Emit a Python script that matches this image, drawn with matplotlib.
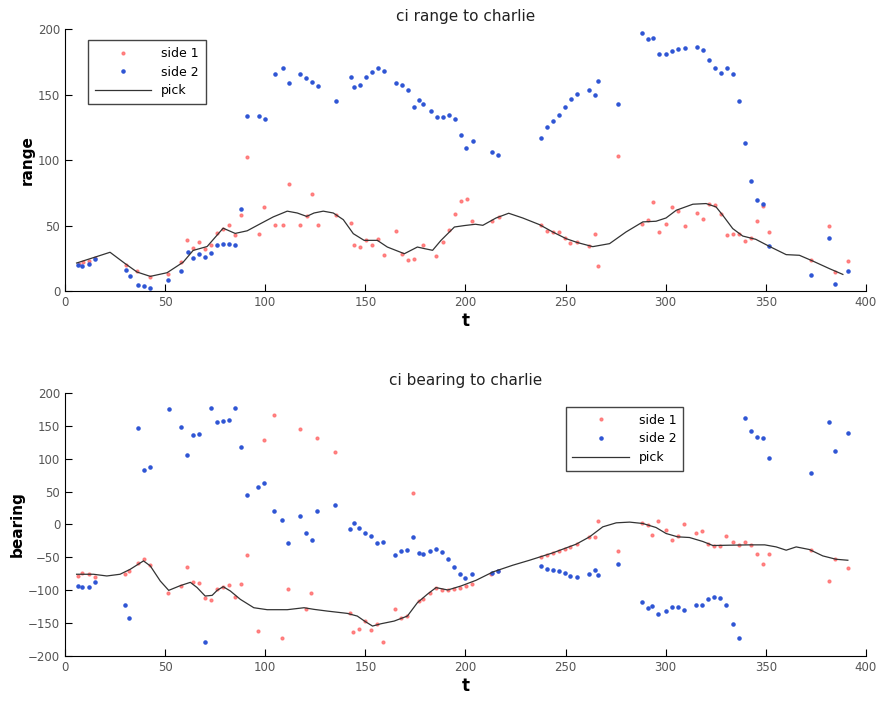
import numpy as np
import matplotlib
matplotlib.use("Agg")
import matplotlib.pyplot as plt

# ---- range plot data ----
t_r1 = [7, 9, 12, 15, 30.4, 35.9, 42.7, 51.4, 57.9, 60.9, 63.9, 66.9, 69.9, 72.9, 76.1, 79.1,
        82.1, 85.1, 88.1, 91.1, 96.7, 99.5, 104.7, 108.7, 111.7, 117.4, 120.7, 123.5, 126.5,
        135.6, 142.6, 144.4, 147.2, 150.4, 153.3, 156.3, 159.3, 165.1, 168.2, 171.3, 174.1,
        178.8, 185.5, 188.6, 191.7, 194.7, 197.7, 200.7, 203.5, 213.5, 216.6, 237.5, 240.5,
        243.6, 246.6, 249.8, 252.4, 255.8, 261.9, 264.9, 266.4, 276.4, 288.4, 291.4, 293.6,
        296.6, 300.4, 303.4, 306.4, 309.6, 315.6, 318.6, 321.6, 324.6, 327.7, 330.7, 333.7,
        336.7, 339.7, 342.7, 345.7, 348.7, 351.7, 372.8, 381.8, 384.8, 391.0]
r_r1 = [21, 22, 23, 25, 20.1, 15.3, 10.4, 13.3, 22.2, 38.7, 32.6, 37.2, 32.4, 35.4, 44.3, 47.1,
        50.2, 42.6, 57.8, 102.4, 43.3, 64.5, 50.2, 50.2, 82.1, 50.2, 57.1, 74.4, 50.7,
        58.4, 52.2, 34.9, 33.6, 38.7, 34.9, 40.0, 27.8, 45.9, 28.0, 24.0, 24.7,
        34.9, 26.5, 37.5, 46.4, 58.6, 68.6, 70.6, 53.5, 53.5, 56.3, 50.2, 45.9,
        44.9, 44.9, 40.5, 37.0, 37.7, 34.1, 43.3, 19.1, 103.2, 51.5, 54.0, 67.8,
        44.9, 51.0, 64.5, 61.4, 49.4, 59.6, 55.3, 66.3, 65.5, 59.1, 43.1, 43.6,
        43.6, 38.2, 40.5, 53.3, 64.7, 45.1, 23.4, 49.4, 14.5, 22.7]

t_r2 = [6.7, 8.7, 12.2, 15.2, 30.6, 32.4, 36.4, 39.6, 42.6, 51.4, 57.9, 61.3, 63.9, 66.9, 69.9,
        72.9, 76.1, 79.1, 82.1, 85.1, 88.1, 91.1, 97.0, 99.8, 104.8, 108.7, 111.7, 117.4,
        120.5, 123.5, 126.5, 135.4, 142.6, 144.4, 147.2, 150.4, 153.3, 156.3, 159.3, 165.4,
        168.3, 171.4, 174.3, 176.8, 178.8, 182.7, 185.6, 188.6, 191.7, 194.8, 197.7, 200.5,
        203.7, 213.5, 216.5, 237.5, 240.5, 243.6, 246.8, 249.8, 252.8, 255.8, 261.9, 264.9,
        266.4, 276.4, 288.4, 291.4, 293.6, 296.6, 300.4, 303.4, 306.4, 309.6, 315.6, 318.6,
        321.6, 324.6, 327.7, 330.7, 333.7, 336.7, 339.7, 342.7, 345.7, 348.7, 351.7, 372.8,
        381.8, 384.8, 391.0]
r_r2 = [20.1, 19.1, 20.6, 24.5, 15.8, 11.7, 4.3, 3.8, 2.5, 8.7, 15.0, 29.8, 25.0, 28.5, 25.7,
        29.3, 34.9, 35.7, 36.2, 34.9, 62.9, 134.0, 134.0, 131.2, 165.4, 170.5, 158.5, 165.4,
        162.6, 159.5, 156.2, 145.0, 163.6, 156.0, 157.7, 163.6, 167.4, 170.2, 168.2, 159.0,
        157.2, 153.9, 140.7, 146.0, 143.2, 137.6, 132.8, 132.8, 134.6, 131.0, 119.0, 109.1,
        114.2, 105.8, 103.7, 117.2, 125.1, 129.7, 134.8, 140.7, 146.5, 150.6, 153.2, 149.8,
        160.5, 143.0, 197.0, 192.4, 192.9, 180.7, 180.7, 183.0, 184.5, 185.8, 186.3, 183.7,
        176.4, 170.7, 166.2, 170.0, 165.9, 145.3, 113.4, 83.8, 69.6, 66.3, 34.1, 12.0,
        40.8, 5.4, 15.3]

t_rp = [5.8, 14.2, 22.5, 30, 36, 42.6, 51, 59, 64, 71, 79, 85, 91, 97.7, 104, 111, 116, 120.7,
        124.4, 129, 134, 139, 144, 149.4, 156, 161, 169.5, 176, 179.5, 183.6, 187.8, 194.5,
        199.5, 205, 208.7, 215.3, 221.6, 228.6, 237, 243.6, 250.3, 256, 263.6, 272, 280.2,
        288.6, 295.2, 300.2, 305.3, 313.6, 320.2, 325.2, 328.5, 333.5, 338.5, 345, 351.8,
        360.2, 366.8, 373.5, 381.8, 388.5]
r_rp = [21.4, 25.5, 29.6, 21, 14.5, 11.2, 14, 22, 31, 34, 48, 44, 46, 51.5, 56.6, 61, 59.6, 57,
        59.6, 61, 59.6, 54.5, 43.8, 38.7, 38.7, 33.6, 28.5, 33.6, 32.4, 31.1, 38.7, 48.9,
        50, 51, 50.2, 55.8, 59.4, 55.8, 50.7, 45.1, 40, 37, 33.9, 36.2, 45.1,
        52.8, 53.3, 55.8, 61.7, 66.3, 66.8, 64.2, 57.9, 47.7, 42, 39.5, 34.1,
        27.8, 27.3, 22.9, 17.1, 12.7]

# ---- bearing plot data ----
t_b1 = [6.7, 8.7, 12.2, 15.0, 30.2, 32.1, 36.4, 39.6, 42.6, 51.4, 57.9, 60.8, 63.8, 66.9, 69.8,
        73.0, 76.0, 79.0, 81.8, 84.8, 88.0, 91.0, 96.5, 99.5, 104.5, 108.3, 111.4, 117.2,
        120.4, 123.0, 126.0, 135.1, 142.4, 143.9, 146.9, 149.9, 153.0, 155.8, 158.8, 164.9,
        167.8, 170.8, 173.9, 176.6, 178.6, 182.3, 185.3, 188.3, 191.2, 194.5, 197.3, 200.2,
        203.2, 213.0, 216.2, 237.5, 240.5, 243.5, 246.5, 249.5, 252.4, 255.6, 261.6, 264.6,
        266.1, 276.3, 288.1, 291.1, 293.4, 296.4, 300.1, 303.1, 306.1, 309.2, 315.2, 318.0,
        321.1, 324.2, 327.2, 330.3, 333.4, 336.4, 339.5, 342.5, 345.5, 348.6, 351.5, 372.7,
        381.8, 384.8, 391.0]
b_b1 = [-78.3, -74.2, -75.8, -79.3, -74.7, -70.7, -59.0, -51.9, -61.0, -104.7, -93.5, -64.1,
        -87.4, -88.5, -111.8, -114.9, -98.1, -94.6, -92.5, -110.3, -90.0, -45.8, -162.2, 128.6,
        166.2, -172.3, -98.6, 145.9, -128.1, -104.7, 131.2, 110.3, -135.2, -164.2, -158.6,
        -146.9, -161.2, -151.0, -178.4, -129.1, -142.9, -139.3, 47.3, -116.9, -113.4, -104.7,
        -96.6, -99.6, -99.6, -98.6, -96.1, -93.5, -90.0, -75.8, -71.2, -49.3, -46.3, -43.7,
        -39.7, -37.1, -34.1, -30.0, -18.8, -19.3, 4.6, -39.7, 2.5, -1.0, -15.3, 4.6, -8.6,
        -23.4, -17.3, 0, -13.2, -10.2, -29.0, -33.0, -32.5, -17.8, -26.4, -30.5, -25.9,
        -30.5, -44.7, -59.5, -45.2, -39.1, -85.4, -52.4, -66.6]

t_b2 = [6.7, 8.7, 12.2, 15.2, 30.2, 32.1, 36.4, 39.6, 42.6, 51.8, 57.9, 60.9, 63.8, 66.9, 69.9,
        73.0, 76.0, 79.0, 82.0, 84.8, 88.0, 91.0, 96.5, 99.5, 104.5, 108.3, 111.4, 117.2,
        120.4, 123.2, 126.0, 135.1, 142.2, 144.1, 146.9, 149.9, 153.0, 156.0, 158.8, 164.9,
        167.8, 170.8, 173.9, 176.6, 178.6, 182.3, 185.5, 188.3, 191.2, 194.5, 197.3, 200.0,
        203.2, 213.2, 216.5, 237.5, 240.5, 243.5, 246.5, 249.5, 252.4, 255.6, 261.6, 264.6,
        266.1, 276.3, 288.1, 291.1, 293.4, 296.4, 300.1, 303.1, 306.2, 309.2, 315.2, 318.0,
        321.0, 324.2, 327.2, 330.2, 333.4, 336.4, 339.5, 342.5, 345.5, 348.5, 351.5, 372.7,
        381.8, 384.8, 391.0]
b_b2 = [-94.1, -95.6, -95.6, -87.4, -122.5, -142.3, 147.4, 83.4, 87.4, 175.9, 148.4, 105.2,
        136.2, 137.8, -179, 176.4, 155.6, 158.1, 159.6, 176.4, 117.9, 44.7, 56.9, 63.0, 19.8,
        7.1, -28.0, 12.2, -13.7, -23.4, 19.8, 29.0, -7.6, 1.5, -5.1, -13.2, -17.8, -28.0,
        -26.4, -46.8, -40.7, -39.1, -19.3, -42.7, -44.2, -40.7, -37.6, -42.2, -52.4, -65.1,
        -75.2, -80.8, -75.2, -73.7, -71.2, -63.5, -67.6, -69.1, -70.7, -74.2, -77.8, -79.3,
        -75.2, -68.6, -76.8, -60.0, -118.5, -127.1, -124.0, -135.7, -131.7, -125.6, -125.6,
        -129.6, -123.0, -123.0, -113.9, -110.8, -111.3, -123.0, -151.5, -172.9, 162.2, 142.9,
        132.7, 131.2, 100.7, 78.3, 155.1, 111.8, 139.3]

t_bp = [5.8, 14.2, 20.9, 27.5, 32.6, 39.2, 42.6, 47.6, 51.8, 57.6, 62.6, 66, 70, 73.5, 76, 79,
        82.6, 87.6, 94.3, 101, 111, 119.4, 124.4, 131, 141, 146, 149.6, 153.6, 157.8, 164.4,
        171, 176, 181, 185.3, 191.2, 197.8, 205.3, 213.7, 223.6, 232, 243.6, 255.3, 262,
        268.6, 275.3, 282, 288.6, 295.2, 300.2, 306, 311.9, 318.6, 323.6, 332, 342, 349.5,
        355.2, 360.2, 365.2, 371.8, 378.5, 385.1, 391]
b_bp = [-75.7, -75.7, -78.3, -75.7, -68.1, -55.4, -63.0, -86, -100.2, -93, -88, -96, -108.8,
        -107.8, -100.2, -94.6, -101.2, -113.9, -126.6, -129.6, -129.6, -126.6, -129.1, -131.7,
        -135.2, -139.3, -146.9, -154.5, -151, -146.9, -139.3, -119, -106, -96, -99.6, -93.5,
        -84.9, -72.2, -62.0, -54.4, -43.2, -30, -18.8, -3.6, 2.5, 3.6, 1.5, -4.6, -13.7,
        -18.8, -19.8, -25.9, -32.0, -31.5, -31.0, -31.0, -34.1, -39.1, -34.1, -38.1, -47.8,
        -52.9, -54.4]

RED = "#ff6b6b"
BLUE = "#2f55d4"
LINE = "#333333"


def estilo_eixo(ax, ylim, yticks, titulo, ylabel):
    ax.set_xlim(0, 400)
    ax.set_ylim(*ylim)
    ax.set_xticks(range(0, 401, 50))
    ax.set_yticks(yticks)
    ax.spines["top"].set_visible(False)
    ax.spines["right"].set_visible(False)
    ax.tick_params(direction="in", length=5, labelsize=8.5, labelcolor="#555555")
    ax.set_title(titulo, fontsize=11, color="#222222")
    ax.set_xlabel("t", fontsize=12, fontweight="bold", labelpad=2)
    ax.set_ylabel(ylabel, fontsize=11, fontweight="bold", labelpad=2)


def legenda(ax, x, y):
    ax.legend(loc="upper left", bbox_to_anchor=(x, y), borderaxespad=0, fontsize=9,
              frameon=True, fancybox=False, edgecolor="#444444", handlelength=4.5,
              borderpad=0.55, labelspacing=0.45, framealpha=1)


fig = plt.figure(figsize=(8.83, 7.04), dpi=100)

ax1 = fig.add_axes([0.0736, 0.5866, 0.907, 0.372])
ax1.plot(t_r1, r_r1, ".", color=RED, ms=4, alpha=0.8, label="side 1")
ax1.plot(t_r2, r_r2, ".", color=BLUE, ms=4.5, label="side 2")
ax1.plot(t_rp, r_rp, "-", color=LINE, lw=0.9, label="pick")
estilo_eixo(ax1, (0, 200), range(0, 201, 50), "ci range to charlie", "range")
legenda(ax1, 0.029, 0.958)

ax2 = fig.add_axes([0.0736, 0.0682, 0.907, 0.3736])
ax2.plot(t_b1, b_b1, ".", color=RED, ms=4, alpha=0.8, label="side 1")
ax2.plot(t_b2, b_b2, ".", color=BLUE, ms=4.5, label="side 2")
ax2.plot(t_bp, b_bp, "-", color=LINE, lw=0.9, label="pick")
estilo_eixo(ax2, (-200, 200), range(-200, 201, 50), "ci bearing to charlie", "bearing")
legenda(ax2, 0.625, 0.947)

fig.savefig("out.png", dpi=100)
